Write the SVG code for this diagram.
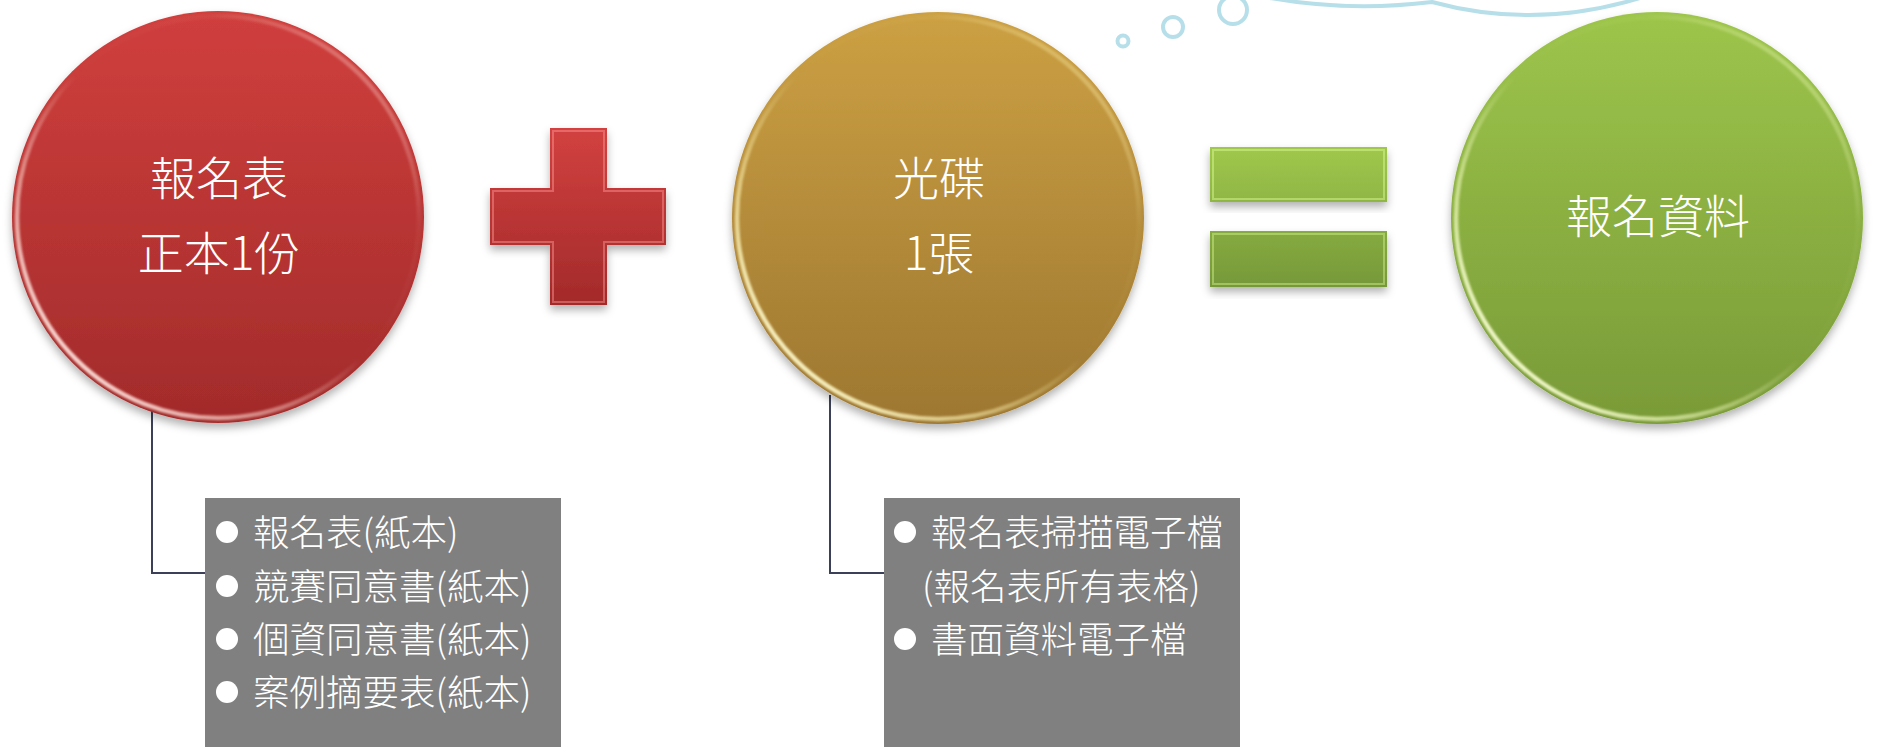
<svg xmlns="http://www.w3.org/2000/svg" width="1898" height="747" viewBox="0 0 1898 747">
<style>
.t{fill:#ffffff;font-family:"Noto Sans CJK TC","Noto Sans CJK SC",sans-serif;font-weight:300;}
.ct{font-size:46px;text-anchor:middle;}
.bt{font-size:36.5px;}
.box{fill:#808080;}
.bul{fill:#ffffff;}
.conn{fill:none;stroke:#3b3f57;stroke-width:2;}
.bubble{fill:none;stroke:#b7dfea;stroke-width:4;}
.rim{fill:none;stroke-width:4.5;}
</style>
<defs>
<filter id="sh" x="-20%" y="-20%" width="140%" height="140%">
<feDropShadow dx="0" dy="5" stdDeviation="4" flood-color="#000" flood-opacity="0.3"/>
</filter>
<filter id="blur1"><feGaussianBlur stdDeviation="0.8"/></filter>
<linearGradient id="gRed" x1="0" y1="0" x2="0" y2="1"><stop offset="0" stop-color="#d03f3d"/><stop offset="1" stop-color="#a22b2b"/></linearGradient>
<linearGradient id="gGold" x1="0" y1="0" x2="0" y2="1"><stop offset="0" stop-color="#cca043"/><stop offset="1" stop-color="#9d7731"/></linearGradient>
<linearGradient id="gGreen" x1="0" y1="0" x2="0" y2="1"><stop offset="0" stop-color="#9dc54b"/><stop offset="1" stop-color="#799a38"/></linearGradient>
<linearGradient id="gPlus" gradientUnits="userSpaceOnUse" x1="0" y1="128" x2="0" y2="305"><stop offset="0" stop-color="#d24140"/><stop offset="1" stop-color="#a32a2a"/></linearGradient>
<linearGradient id="gEq" gradientUnits="userSpaceOnUse" x1="0" y1="147" x2="0" y2="287"><stop offset="0" stop-color="#a0c84c"/><stop offset="1" stop-color="#769839"/></linearGradient>
<linearGradient id="rRed" x1="0.1" y1="0.9" x2="0.9" y2="0.1"><stop offset="0" stop-color="#ffe4de" stop-opacity="1"/><stop offset="0.3" stop-color="#ffd8d0" stop-opacity="0.45"/><stop offset="0.5" stop-color="#ffd8d0" stop-opacity="0"/><stop offset="0.8" stop-color="#ffd8d0" stop-opacity="0.05"/><stop offset="1" stop-color="#ffd8d0" stop-opacity="0.45"/></linearGradient>
<linearGradient id="rGold" x1="0.1" y1="0.9" x2="0.9" y2="0.1"><stop offset="0" stop-color="#fffbd0" stop-opacity="1"/><stop offset="0.3" stop-color="#fff4b0" stop-opacity="0.45"/><stop offset="0.5" stop-color="#fff4b0" stop-opacity="0"/><stop offset="0.8" stop-color="#fff4b0" stop-opacity="0.05"/><stop offset="1" stop-color="#fff4b0" stop-opacity="0.45"/></linearGradient>
<linearGradient id="rGreen" x1="0.1" y1="0.9" x2="0.9" y2="0.1"><stop offset="0" stop-color="#faffd8" stop-opacity="1"/><stop offset="0.3" stop-color="#f4ffc0" stop-opacity="0.45"/><stop offset="0.5" stop-color="#f4ffc0" stop-opacity="0"/><stop offset="0.8" stop-color="#f4ffc0" stop-opacity="0.05"/><stop offset="1" stop-color="#f4ffc0" stop-opacity="0.45"/></linearGradient>
</defs>

<g id="thought-bubble">
<path class="bubble" d="M1270 -2 Q1350 12 1432 2 Q1535 30 1640 -2"/>
<circle class="bubble" cx="1123" cy="41" r="5.5" stroke-width="3.5"/>
<circle class="bubble" cx="1173" cy="27" r="10"/>
<circle class="bubble" cx="1233" cy="10" r="14"/>
</g>

<g id="connectors">
<path class="conn" d="M152 395 V573 H205"/>
<path class="conn" d="M830 395 V573 H884"/>
</g>

<g id="node-form">
<circle cx="218" cy="217" r="206" fill="url(#gRed)" filter="url(#sh)"/>
<circle class="rim" cx="218" cy="217" r="201" stroke="url(#rRed)" filter="url(#blur1)"/>
<text class="t ct" x="219" y="195">報名表</text>
<text class="t ct" x="219" y="270">正本1份</text>
</g>

<g id="plus-sign">
<path d="M550 128 H607 V188 H666 V245 H607 V305 H550 V245 H490 V188 H550 Z" fill="url(#gPlus)" filter="url(#sh)"/>
<path d="M553 131 H604 V191 H663 V242 H604 V302 H553 V242 H493 V191 H553 Z" fill="none" stroke="#ff9c96" stroke-opacity="0.45" stroke-width="2"/>
</g>

<g id="node-disc">
<circle cx="938" cy="218" r="206" fill="url(#gGold)" filter="url(#sh)"/>
<circle class="rim" cx="938" cy="218" r="201" stroke="url(#rGold)" filter="url(#blur1)"/>
<text class="t ct" x="939" y="195">光碟</text>
<text class="t ct" x="939" y="270">1張</text>
</g>

<g id="equals-sign">
<rect x="1210" y="147" width="177" height="55" fill="url(#gEq)" filter="url(#sh)"/>
<rect x="1210" y="231" width="177" height="56" fill="url(#gEq)" filter="url(#sh)"/>
<rect x="1213" y="150" width="171" height="49" fill="none" stroke="#e0ff9c" stroke-opacity="0.45" stroke-width="2"/>
<rect x="1213" y="234" width="171" height="50" fill="none" stroke="#e0ff9c" stroke-opacity="0.4" stroke-width="2"/>
</g>

<g id="node-result">
<circle cx="1657" cy="218" r="206" fill="url(#gGreen)" filter="url(#sh)"/>
<circle class="rim" cx="1657" cy="218" r="201" stroke="url(#rGreen)" filter="url(#blur1)"/>
<text class="t ct" x="1658" y="233">報名資料</text>
</g>

<g id="list-form">
<rect class="box" x="205" y="498" width="356" height="260"/>
<circle class="bul" cx="227" cy="532" r="11"/>
<circle class="bul" cx="227" cy="586" r="11"/>
<circle class="bul" cx="227" cy="639" r="11"/>
<circle class="bul" cx="227" cy="692" r="11"/>
<text class="t bt" x="253" y="546">報名表(紙本)</text>
<text class="t bt" x="253" y="600">競賽同意書(紙本)</text>
<text class="t bt" x="253" y="653">個資同意書(紙本)</text>
<text class="t bt" x="253" y="706">案例摘要表(紙本)</text>
</g>

<g id="list-disc">
<rect class="box" x="884" y="498" width="356" height="260"/>
<circle class="bul" cx="905" cy="532" r="11"/>
<circle class="bul" cx="905" cy="639" r="11"/>
<text class="t bt" x="931" y="546">報名表掃描電子檔</text>
<text class="t bt" x="922" y="600">(報名表所有表格)</text>
<text class="t bt" x="931" y="653">書面資料電子檔</text>
</g>
</svg>
